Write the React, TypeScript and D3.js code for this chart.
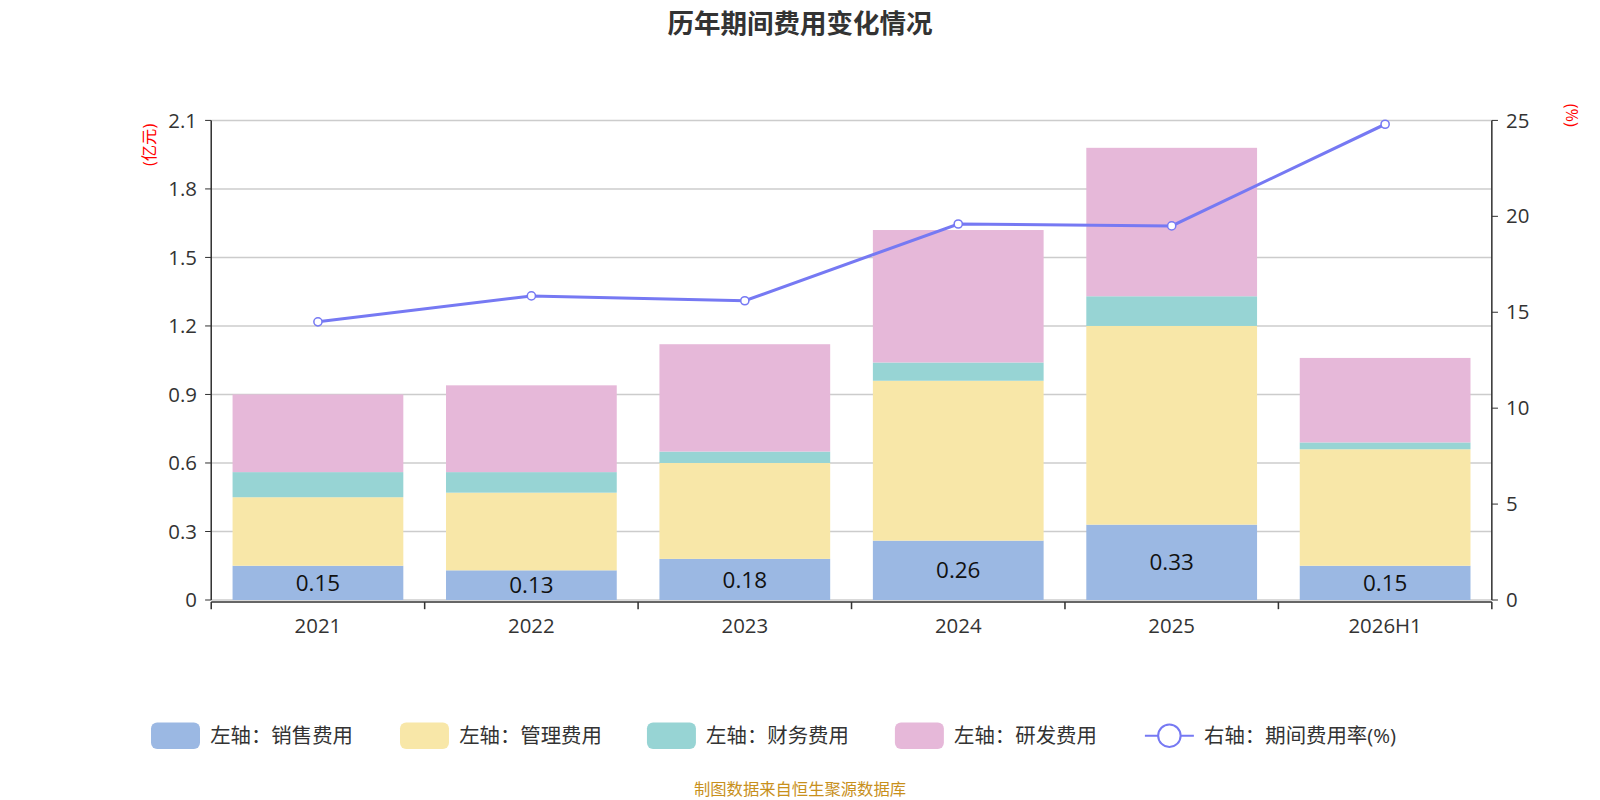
import React from "react";
import * as d3 from "d3";

const years = ["2021", "2022", "2023", "2024", "2025", "2026H1"];
const sales = [0.15, 0.13, 0.18, 0.26, 0.33, 0.15];
const admin = [0.30, 0.34, 0.42, 0.70, 0.87, 0.51];
const fin = [0.11, 0.09, 0.05, 0.08, 0.13, 0.03];
const rd = [0.34, 0.38, 0.47, 0.58, 0.65, 0.37];
const rate = [14.5, 15.85, 15.6, 19.6, 19.5, 24.8];
const leftTicks = [0, 0.3, 0.6, 0.9, 1.2, 1.5, 1.8, 2.1];
const rightTicks = [0, 5, 10, 15, 20, 25];
const seriesNames = ["左轴：销售费用", "左轴：管理费用", "左轴：财务费用", "左轴：研发费用"];
const colors = ["#9bb8e3", "#f8e7a8", "#97d4d4", "#e6b8d9"];
const lineColor = "#7679f3";

export default function App() {
  const L = 207, R = 1462, T = 118, B = 588;
  const x = d3.scaleBand().domain(years).range([L, R]).paddingInner(0.2).paddingOuter(0.1);
  const xb = d3.scaleBand().domain(years).range([L, R]);
  const y = d3.scaleLinear().domain([0, 2.1]).range([B, T]);
  const y2 = d3.scaleLinear().domain([0, 25]).range([B, T]);
  const stacks = [sales, admin, fin, rd];
  const line = d3.line<number>().x((_, i) => xb(years[i])! + xb.bandwidth() / 2).y(d => y2(d));
  const font = "'Open Sans', 'Noto Sans CJK SC', sans-serif";
  const legendX = [148, 392, 634, 877, 1122];
  const s = 1600 / 1568;
  return (
    <svg width={1600} height={800} style={{ position: "absolute", left: 0, top: 0, fontFamily: font }}>
      <rect width={1600} height={800} fill="#fff" />
      <g transform={`scale(${s})`}>
      <text x={784} y={32} textAnchor="middle" fontSize={26} fontWeight="bold" fill="#333" fontFamily="'Noto Sans CJK SC', sans-serif">历年期间费用变化情况</text>
      {leftTicks.map(t => (
        <g key={t}>
          <line x1={L} x2={R} y1={y(t)} y2={y(t)} stroke="#ccc" strokeWidth={1.5} />
          <text x={L - 14} y={y(t) + 7} textAnchor="end" fontSize={20} fill="#333">{t === 0 ? "0" : t.toFixed(1)}</text>
          <line x1={L - 6} x2={L} y1={y(t)} y2={y(t)} stroke="#333" />
        </g>
      ))}
      {rightTicks.map(t => (
        <g key={t}>
          <text x={R + 14} y={y2(t) + 7} fontSize={20} fill="#333">{t}</text>
          <line x1={R} x2={R + 6} y1={y2(t)} y2={y2(t)} stroke="#333" />
        </g>
      ))}
      <text transform={`translate(152,${142}) rotate(-90)`} textAnchor="middle" fontSize={16} fill="red">(亿元)</text>
      <text transform={`translate(1535,${113}) rotate(90)`} textAnchor="middle" fontSize={16} fill="red">(%)</text>
      {years.map((yr, i) => {
        let acc = 0;
        return (
          <g key={yr}>
            {stacks.map((st, k) => {
              const y0 = acc; acc += st[i];
              return <rect key={k} x={x(yr)} width={x.bandwidth()} y={y(acc)} height={y(y0) - y(acc)} fill={colors[k]} />;
            })}
            <text x={x(yr)! + x.bandwidth() / 2} y={(y(0) + y(sales[i])) / 2 + 8} textAnchor="middle" fontSize={22} fill="#111">{sales[i].toFixed(2)}</text>
            <text x={xb(yr)! + xb.bandwidth() / 2} y={620} textAnchor="middle" fontSize={20} fill="#333">{yr}</text>
          </g>
        );
      })}
      <line x1={L} x2={L} y1={T} y2={B} stroke="#333" strokeWidth={1.5} />
      <line x1={R} x2={R} y1={T} y2={B} stroke="#333" strokeWidth={1.5} />
      <line x1={L} x2={R} y1={B + 2} y2={B + 2} stroke="#333" strokeWidth={1.5} />
      {years.concat(["end"]).map((_, i) => {
        const px = i < years.length ? xb(years[i])! : R;
        return <line key={i} x1={px} x2={px} y1={B + 2} y2={B + 9} stroke="#333" strokeWidth={1.5} />;
      })}
      <path d={line(rate)!} fill="none" stroke={lineColor} strokeWidth={3} />
      {rate.map((r, i) => (
        <circle key={i} cx={xb(years[i])! + xb.bandwidth() / 2} cy={y2(r)} r={4} fill="#fff" stroke={lineColor} strokeWidth={1.5} />
      ))}
      {seriesNames.map((n, k) => (
        <g key={n}>
          <rect x={legendX[k]} y={708} width={48} height={26} rx={6} fill={colors[k]} />
          <text x={legendX[k] + 58} y={728} fontSize={20} fill="#333">{n}</text>
        </g>
      ))}
      <line x1={1122} x2={1170} y1={721} y2={721} stroke={lineColor} strokeWidth={2} />
      <circle cx={1146} cy={721} r={11} fill="#fff" stroke={lineColor} strokeWidth={2} />
      <text x={1180} y={728} fontSize={20} fill="#333">右轴：期间费用率(%)</text>
      <text x={784} y={779} textAnchor="middle" fontSize={16} fill="#c8901c">制图数据来自恒生聚源数据库</text>
      </g>
    </svg>
  );
}
